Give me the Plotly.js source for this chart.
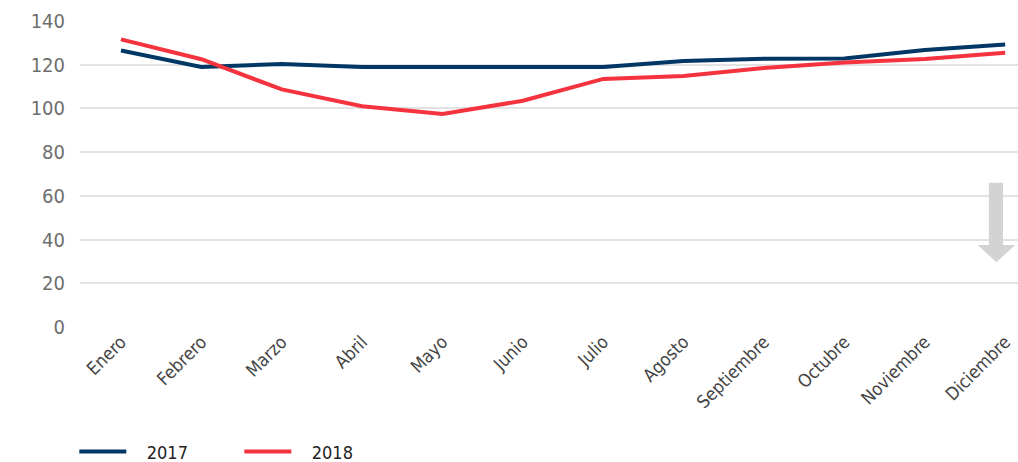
<!DOCTYPE html>
<html>
<head>
<meta charset="utf-8">
<script src="https://cdn.plot.ly/plotly-3.0.1.min.js"></script>
<style>html,body{margin:0;padding:0;background:#fff;}#chart{width:1018px;height:462px;}</style>
</head>
<body>
<div id="chart"></div>
<script>
const months = ["Enero","Febrero","Marzo","Abril","Mayo","Junio","Julio","Agosto","Septiembre","Octubre","Noviembre","Diciembre"];
const series2017 = [126.5, 119, 120.3, 119, 119, 119, 119, 121.7, 122.7, 122.8, 126.7, 129.3];
const series2018 = [131.6, 122.5, 108.7, 101, 97.5, 103.5, 113.5, 114.8, 118.5, 121, 122.6, 125.5];
const yTicks = [0, 20, 40, 60, 80, 100, 120, 140];

const font = "'DejaVu Sans Condensed', 'Liberation Sans Narrow', sans-serif";
const traces = [
  {x: months, y: series2017, name: "&nbsp;&nbsp;&nbsp;2017", type: "scatter", mode: "lines",
   line: {color: "#003764", width: 4}},
  {x: months, y: series2018, name: "&nbsp;&nbsp;&nbsp;2018", type: "scatter", mode: "lines",
   line: {color: "#f5333f", width: 4}}
];
const layout = {
  width: 1018, height: 462,
  margin: {l: 80, r: 0, t: 21, b: 135},
  paper_bgcolor: "#fff", plot_bgcolor: "#fff",
  font: {family: font, color: "#6b6b6b", size: 17},
  showlegend: true,
  legend: {orientation: "h", xref: "container", yref: "container",
           x: 0.073, xanchor: "left", y: 0.022, yanchor: "middle",
           font: {family: font, size: 18, color: "#222"}, itemwidth: 47,
           entrywidth: 103, entrywidthmode: "pixels", tracegroupgap: 0},
  xaxis: {type: "category", range: [-0.51, 11.16], showgrid: false, zeroline: false,
          showline: false, ticks: "", tickangle: -45, tickfont: {size: 18, color: "#444"}},
  yaxis: {range: [0, 140], tickvals: yTicks, ticktext: yTicks.map(String), showgrid: true,
          gridcolor: "#e2e2e2", gridwidth: 2, zeroline: false, showline: false,
          ticks: "", ticklabelstandoff: 14, tickfont: {size: 20, color: "#6e6e6e"}},
  shapes: [
    {type: "path", xref: "paper", yref: "paper", layer: "above",
     path: "M 0.969 0.471 L 0.984 0.471 L 0.984 0.268 L 0.997 0.268 L 0.977 0.212 L 0.957 0.268 L 0.969 0.268 Z",
     fillcolor: "#d3d3d3", line: {width: 0}}
  ]
};
Plotly.newPlot("chart", traces, layout, {displayModeBar: false, staticPlot: true});
</script>
</body>
</html>
